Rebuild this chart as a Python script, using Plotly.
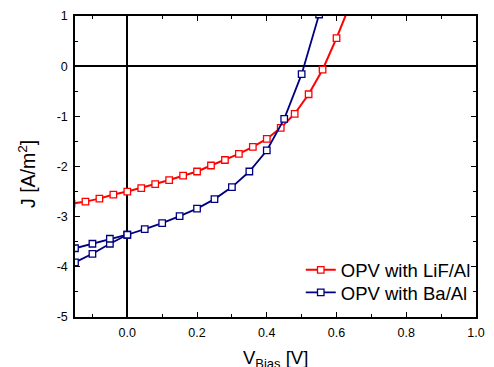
import plotly.graph_objects as go

# LiF/Al series
lif_v = [-0.16, -0.12, -0.08, -0.04, 0.00, 0.04, 0.08, 0.12, 0.16, 0.20, 0.24,
         0.28, 0.32, 0.36, 0.40, 0.44, 0.48, 0.52, 0.56, 0.60, 0.64]
lif_j = [-2.74, -2.70, -2.64, -2.56, -2.50, -2.43, -2.35, -2.27, -2.18, -2.10, -1.98,
         -1.87, -1.75, -1.61, -1.45, -1.23, -0.95, -0.56, -0.07, 0.56, 1.25]

# Ba/Al series (main sweep)
ba_v = [-0.15, -0.10, -0.05, 0.00, 0.05, 0.10, 0.15, 0.20, 0.25, 0.30, 0.35,
        0.40, 0.45, 0.50, 0.55]
ba_j = [-3.91, -3.74, -3.54, -3.36, -3.25, -3.13, -2.99, -2.84, -2.65, -2.41, -2.10,
        -1.68, -1.05, -0.16, 1.03]

# Ba/Al second branch at negative bias
ba2_v = [-0.15, -0.10, -0.05, 0.00]
ba2_j = [-3.63, -3.54, -3.44, -3.36]

x_ticks = [0.0, 0.2, 0.4, 0.6, 0.8, 1.0]
x_ticklabels = ["0.0", "0.2", "0.4", "0.6", "0.8", "1.0"]
y_ticks = [1, 0, -1, -2, -3, -4, -5]
y_ticklabels = ["1", "0", "-1", "-2", "-3", "-4", "-5"]

RED = "#FF0000"
BLUE = "#000080"
FONT = "Arial, Liberation Sans, sans-serif"

fig = go.Figure()
fig.add_trace(go.Scatter(
    x=lif_v, y=lif_j, mode="lines+markers", name="OPV with LiF/Al", legend="legend",
    line=dict(color=RED, width=2),
    marker=dict(symbol="square", size=6.5, color="white", line=dict(color=RED, width=1.3)),
))
fig.add_trace(go.Scatter(
    x=ba_v, y=ba_j, mode="lines+markers", name="OPV with Ba/Al", legend="legend2",
    line=dict(color=BLUE, width=1.8),
    marker=dict(symbol="square", size=6.5, color="white", line=dict(color=BLUE, width=1.3)),
))
fig.add_trace(go.Scatter(
    x=ba2_v, y=ba2_j, mode="lines+markers", name="OPV with Ba/Al", showlegend=False,
    line=dict(color=BLUE, width=1.8),
    marker=dict(symbol="square", size=6.5, color="white", line=dict(color=BLUE, width=1.3)),
))

axis_common = dict(
    showgrid=False, showline=True, linecolor="black", linewidth=1.5,
    mirror="allticks", ticks="inside", ticklen=5, tickwidth=1, tickcolor="black",
    zeroline=True, zerolinecolor="black", zerolinewidth=1.6,
    tickfont=dict(family=FONT, size=12.5, color="black"),
)

fig.update_xaxes(
    range=[-0.15, 1.0], tickvals=x_ticks, ticktext=x_ticklabels, ticklabelstandoff=3,
    minor=dict(dtick=0.1, tick0=0, ticks="inside", ticklen=3, tickcolor="black", showgrid=False),
    **axis_common,
)
fig.update_yaxes(
    range=[-5, 1], tickvals=y_ticks, ticktext=y_ticklabels, ticklabelstandoff=3,
    minor=dict(dtick=0.5, tick0=0, ticks="inside", ticklen=3, tickcolor="black", showgrid=False),
    **axis_common,
)

legend_common = dict(
    xanchor="left", yanchor="middle",
    bgcolor="rgba(0,0,0,0)", borderwidth=0,
    font=dict(family=FONT, size=18.5, color="black"),
    itemwidth=30,
)

fig.update_layout(
    width=494, height=367,
    margin=dict(l=75, r=9, t=14, b=50),
    paper_bgcolor="white", plot_bgcolor="white",
    font=dict(family=FONT, color="black"),
    showlegend=True,
    legend=dict(x=0.563, y=0.155, **legend_common),
    legend2=dict(x=0.563, y=0.080, **legend_common),
    annotations=[
        dict(text="V<sub>Bias</sub> [V]", xref="paper", yref="paper",
             x=0.5, y=0, xanchor="center", yanchor="top", yshift=-28,
             showarrow=False, font=dict(family=FONT, size=18.5, color="black")),
        dict(text="J [A/m<sup>2</sup>]", xref="paper", yref="paper",
             x=0, y=0.475, xanchor="center", yanchor="middle", xshift=-48,
             textangle=-90, showarrow=False, font=dict(family=FONT, size=19.5, color="black")),
    ],
)

fig.write_html("out.html")
